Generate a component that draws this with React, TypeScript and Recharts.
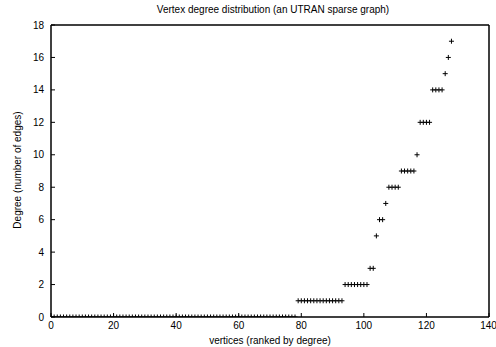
import React from 'react';
import { ScatterChart, Scatter, XAxis, YAxis } from 'recharts';

// Degree of each vertex, ranked ascending (index = rank)
const degrees: number[] = [
  0, 0, 0, 0, 0, 0, 0, 0, 0, 0, 0, 0, 0, 0, 0, 0, 0, 0, 0, 0,
  0, 0, 0, 0, 0, 0, 0, 0, 0, 0, 0, 0, 0, 0, 0, 0, 0, 0, 0, 0,
  0, 0, 0, 0, 0, 0, 0, 0, 0, 0, 0, 0, 0, 0, 0, 0, 0, 0, 0, 0,
  0, 0, 0, 0, 0, 0, 0, 0, 0, 0, 0, 0, 0, 0, 0, 0, 0, 0, 0,
  1, 1, 1, 1, 1, 1, 1, 1, 1, 1, 1, 1, 1, 1, 1,
  2, 2, 2, 2, 2, 2, 2, 2,
  3, 3,
  5,
  6, 6,
  7,
  8, 8, 8, 8,
  9, 9, 9, 9, 9,
  10,
  12, 12, 12, 12,
  14, 14, 14, 14,
  15,
  16,
  17,
];

const xTicks = [0, 20, 40, 60, 80, 100, 120, 140];
const yTicks = [0, 2, 4, 6, 8, 10, 12, 14, 16, 18];

const title = 'Vertex degree distribution (an UTRAN sparse graph)';
const xLabel = 'vertices (ranked by degree)';
const yLabel = 'Degree (number of edges)';

const points = degrees.map((degree, rank) => ({ rank, degree }));

const Plus = (props: any) => {
  const { cx, cy } = props;
  const h = 2.5;
  return (
    <g>
      <line x1={cx - h} y1={cy} x2={cx + h} y2={cy} stroke="#000" strokeWidth={1} />
      <line x1={cx} y1={cy - h} x2={cx} y2={cy + h} stroke="#000" strokeWidth={1} />
    </g>
  );
};

const font = '"Liberation Sans", Arial, Helvetica, sans-serif';
const tickStyle = { fontSize: 10, fill: '#000', fontFamily: font };
const axisStroke = { stroke: '#000', strokeWidth: 1.5 };
const tickLineStroke = { stroke: '#000', strokeWidth: 1 };

export default function App() {
  return (
    <div style={{ position: 'absolute', left: 0, top: 0, width: 496, height: 347, background: '#fff', fontFamily: font }}>
      <ScatterChart width={496} height={347} margin={{ top: 24, right: 6, bottom: 29, left: 50 }}>
        <XAxis
          type="number"
          dataKey="rank"
          domain={[0, 140]}
          ticks={xTicks}
          height={1}
          tickSize={-4}
          tickMargin={9}
          tick={tickStyle}
          axisLine={axisStroke}
          tickLine={tickLineStroke}
          allowDataOverflow
        />
        <XAxis
          xAxisId="top"
          orientation="top"
          type="number"
          dataKey="rank"
          domain={[0, 140]}
          ticks={xTicks}
          height={1}
          tickSize={-4}
          tick={false}
          axisLine={axisStroke}
          tickLine={tickLineStroke}
          allowDataOverflow
        />
        <YAxis
          type="number"
          dataKey="degree"
          domain={[0, 18]}
          ticks={yTicks}
          width={1}
          tickSize={-4}
          tickMargin={11}
          tick={tickStyle}
          axisLine={axisStroke}
          tickLine={tickLineStroke}
          allowDataOverflow
        />
        <YAxis
          yAxisId="right"
          orientation="right"
          type="number"
          dataKey="degree"
          domain={[0, 18]}
          ticks={yTicks}
          width={1}
          tickSize={-4}
          tick={false}
          axisLine={axisStroke}
          tickLine={tickLineStroke}
          allowDataOverflow
        />
        <Scatter data={points} shape={<Plus />} isAnimationActive={false} />
      </ScatterChart>
      <div style={{ position: 'absolute', left: 0, width: 546, top: 4, textAlign: 'center', fontSize: 10, color: '#000', whiteSpace: 'nowrap' }}>
        {title}
      </div>
      <div style={{ position: 'absolute', left: 0, width: 540, top: 335, textAlign: 'center', fontSize: 10, color: '#000', whiteSpace: 'nowrap' }}>
        {xLabel}
      </div>
      <div
        style={{
          position: 'absolute',
          left: 17,
          top: 170,
          transform: 'translate(-50%, -50%) rotate(-90deg)',
          fontSize: 10,
          color: '#000',
          whiteSpace: 'nowrap',
        }}
      >
        {yLabel}
      </div>
    </div>
  );
}
